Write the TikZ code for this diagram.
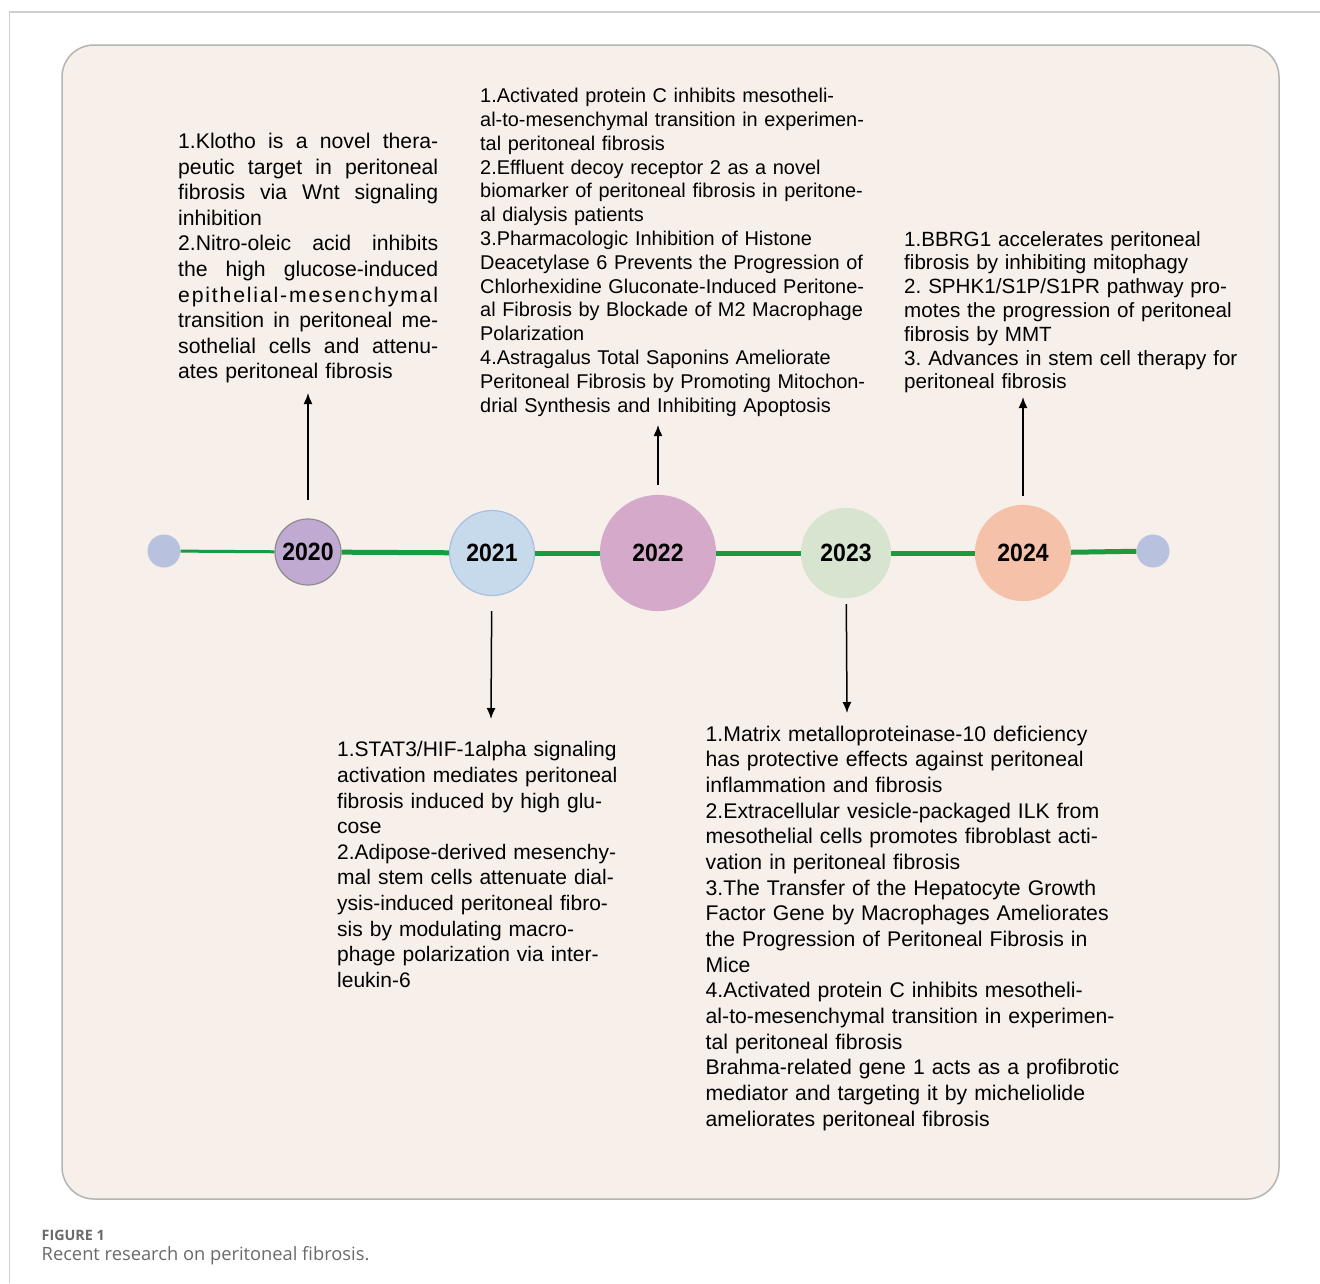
\documentclass[tikz,border=0pt]{standalone}
\usepackage{fontspec}
\setmainfont{Liberation Sans}
\newfontfamily\capfont{Open Sans}
\usetikzlibrary{arrows.meta}
\definecolor{panelbg}{HTML}{F7EFEA}
\definecolor{panelline}{HTML}{B4B4B4}
\definecolor{frameline}{HTML}{CFCFCF}
\definecolor{gline}{HTML}{1B9A40}
\definecolor{cend}{HTML}{B8C1DE}
\definecolor{c20}{HTML}{C1AAD1}
\definecolor{c20b}{HTML}{8E8A8E}
\definecolor{c21}{HTML}{C6DAEB}
\definecolor{c21b}{HTML}{A9C0E2}
\definecolor{c22}{HTML}{D4A9CA}
\definecolor{c23}{HTML}{D6E4D0}
\definecolor{c24}{HTML}{F5C1A9}
\definecolor{captxt}{HTML}{6A6A6A}
\newcommand\jsp{\hskip 5.9pt plus 1fil\relax}
\newcommand\yr[1]{\scalebox{0.92}[1]{#1}}
\tikzset{
  enddot/.style={circle, fill=cend, draw=none, minimum size=33pt, inner sep=0pt},
  yearnode/.style={circle, inner sep=0pt, line width=1.2pt, font=\bfseries\fontsize{25}{28}\selectfont},
  tline/.style={draw=gline, line width=5pt},
  arr/.style={draw=black, line width=1.5pt, -{Latex[length=11pt,width=9pt]}},
  bigtext/.style={anchor=base west, inner sep=0pt, align=left, font=\frenchspacing\fontsize{21.2}{25.6}\selectfont},
  smalltext/.style={anchor=base west, inner sep=0pt, align=left, font=\frenchspacing\fontsize{19.9}{23.8}\selectfont},
}
\begin{document}
\begin{tikzpicture}[x=1pt,y=-1pt]
\useasboundingbox (0,0) rectangle (1320,1283);
\fill[white] (0,0) rectangle (1320,1283);
\draw[frameline, line width=1.2pt] (9.5,1283) -- (9.5,12) -- (1320,12);
\draw[fill=panelbg, draw=panelline, line width=1.5pt, rounded corners=32pt] (62,45) rectangle (1279,1199);

% timeline nodes
\node[enddot] (s1) at (164,551) {};
\node[yearnode, fill=c20, draw=c20b, minimum size=66pt] (y2020) at (308,552) {\yr{2020}};
\node[yearnode, fill=c21, draw=c21b, minimum size=85pt] (y2021) at (492,553) {\yr{2021}};
\node[yearnode, fill=c22, draw=c22, minimum size=115pt] (y2022) at (658,553) {\yr{2022}};
\node[yearnode, fill=c23, draw=c23, minimum size=89pt] (y2023) at (846,553) {\yr{2023}};
\node[yearnode, fill=c24, draw=c24, minimum size=95pt] (y2024) at (1023,553) {\yr{2024}};
\node[enddot] (s2) at (1153,551) {};

\draw[tline, line width=3pt] (s1) -- (y2020);
\draw[tline] (y2020) -- (y2021);
\draw[tline] (y2021) -- (y2022);
\draw[tline] (y2022) -- (y2023);
\draw[tline] (y2023) -- (y2024);
\draw[tline] (y2024) -- (s2);

% text blocks
\node[bigtext, text width=262pt] (t2020) at (178,148.5) {%
\makebox[260pt][s]{1.Klotho\jsp is\jsp a\jsp novel\jsp thera-}\\
\makebox[260pt][s]{peutic\jsp target\jsp in\jsp peritoneal}\\
\makebox[260pt][s]{fibrosis\jsp via\jsp Wnt\jsp signaling}\\
inhibition\\
\makebox[260pt][s]{2.Nitro-oleic\jsp acid\jsp inhibits}\\
\makebox[260pt][s]{the\jsp high\jsp glucose-induced}\\
\makebox[260pt][s]{e\hfil p\hfil i\hfil t\hfil h\hfil e\hfil l\hfil i\hfil a\hfil l\hfil -\hfil m\hfil e\hfil s\hfil e\hfil n\hfil c\hfil h\hfil y\hfil m\hfil a\hfil l}\\
\makebox[260pt][s]{transition\jsp in\jsp peritoneal\jsp me-}\\
\makebox[260pt][s]{sothelial\jsp cells\jsp and\jsp attenu-}\\
ates peritoneal fibrosis};

\node[smalltext, text width=420pt] (t2022) at (480,102.7) {%
1.Activated protein C inhibits mesotheli-\\
al-to-mesenchymal transition in experimen-\\
tal peritoneal fibrosis\\
2.Effluent decoy receptor 2 as a novel\\
biomarker of peritoneal fibrosis in peritone-\\
al dialysis patients\\
3.Pharmacologic Inhibition of Histone\\
Deacetylase 6 Prevents the Progression of\\
Chlorhexidine Gluconate-Induced Peritone-\\
al Fibrosis by Blockade of M2 Macrophage\\
Polarization\\
4.Astragalus Total Saponins Ameliorate\\
Peritoneal Fibrosis by Promoting Mitochon-\\
drial Synthesis and Inhibiting Apoptosis};

\node[smalltext, text width=340pt, font=\frenchspacing\fontsize{20.6}{23.8}\selectfont] (t2024) at (904,246) {%
1.BBRG1 accelerates peritoneal\\
fibrosis by inhibiting mitophagy\\
2. SPHK1/S1P/S1PR pathway pro-\\
motes the progression of peritoneal\\
fibrosis by MMT\\
3. Advances in stem cell therapy for\\
peritoneal fibrosis};

\node[bigtext, text width=300pt, font=\frenchspacing\fontsize{21.0}{25.65}\selectfont] (t2021) at (337,756.7) {%
1.STAT3/HIF-1alpha signaling\\
activation mediates peritoneal\\
fibrosis induced by high glu-\\
cose\\
2.Adipose-derived mesenchy-\\
mal stem cells attenuate dial-\\
ysis-induced peritoneal fibro-\\
sis by modulating macro-\\
phage polarization via inter-\\
leukin-6};

\node[bigtext, text width=440pt, font=\frenchspacing\fontsize{21.2}{25.67}\selectfont] (t2023) at (705.5,741) {%
1.Matrix metalloproteinase-10 deficiency\\
has protective effects against peritoneal\\
inflammation and fibrosis\\
2.Extracellular vesicle-packaged ILK from\\
mesothelial cells promotes fibroblast acti-\\
vation in peritoneal fibrosis\\
3.The Transfer of the Hepatocyte Growth\\
Factor Gene by Macrophages Ameliorates\\
the Progression of Peritoneal Fibrosis in\\
Mice\\
4.Activated protein C inhibits mesotheli-\\
al-to-mesenchymal transition in experimen-\\
tal peritoneal fibrosis\\
Brahma-related gene 1 acts as a profibrotic\\
mediator and targeting it by micheliolide\\
ameliorates peritoneal fibrosis};

% arrows
\coordinate (e2020) at (308,393);
\coordinate (e2021) at (491,719);
\coordinate (e2022) at (658,425);
\coordinate (e2023) at (847,713);
\coordinate (e2024) at (1023,397);
\draw[arr, shorten <=18pt] (y2020) -- (e2020);
\draw[arr, shorten <=15pt] (y2021) -- (e2021);
\draw[arr, shorten <=10pt] (y2022) -- (e2022);
\draw[arr, shorten <=6pt] (y2023) -- (e2023);
\draw[arr, shorten <=9pt] (y2024) -- (e2024);

% caption
\node[anchor=base west, inner sep=0pt, text=captxt, font=\capfont\bfseries\fontsize{14.3}{16}\selectfont] (capa) at (41.5,1240) {FIGURE 1};
\node[anchor=base west, inner sep=0pt, text=captxt, font=\capfont\fontsize{18.3}{20}\selectfont] (capb) at (41.5,1260) {Recent research on peritoneal fibrosis.};
\end{tikzpicture}
\end{document}
